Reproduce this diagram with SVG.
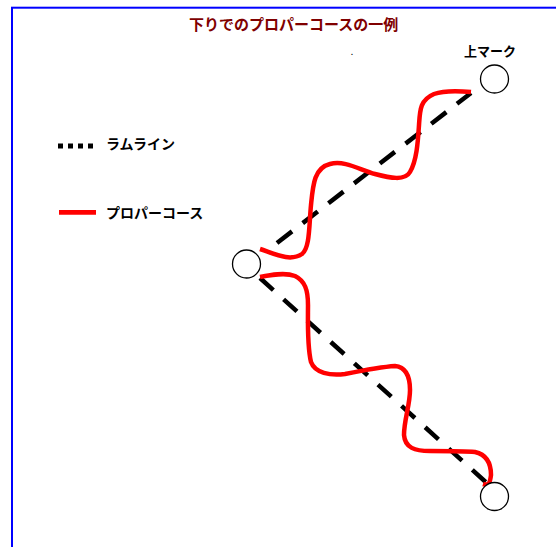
<svg xmlns="http://www.w3.org/2000/svg" width="556" height="547" viewBox="0 0 556 547">
<style>
.jp{font-family:"Noto Sans CJK JP","Noto Sans",sans-serif;font-weight:bold;}
.mark{fill:#fff;stroke:#000;stroke-width:1.3;}
.ram{fill:none;stroke:#000;stroke-width:4.5;}
.pro{fill:none;stroke:#ff0000;stroke-width:4.5;stroke-linejoin:round;}
</style>
<rect x="0" y="0" width="556" height="547" fill="#fff"/>
<rect x="12" y="7.7" width="600" height="600" fill="none" stroke="#0000ff" stroke-width="2"/>
<text class="jp" x="189" y="29.5" font-size="15" fill="#800000">下りでのプロパーコースの一例</text>
<text class="jp" x="351" y="55" font-size="6" fill="#000">.</text>
<g id="connectors">
<path class="ram" d="M277,243 L471,93" stroke-dasharray="19 13.5"/>
<path class="ram" d="M260,278 L489,485" stroke-dasharray="18 13.8"/>
<path class="pro" d="M260,249 C275,254 290,262 302,254 C310,248 309,225 311,205 C313,185 314,168 330,164 C345,160 360,170 375,174 C390,178 405,181 410,172 C417,160 418,140 419,125 C420,110 420,100 434,94 C445,90 460,91 471,92"/>
<path class="pro" d="M260,277 C270,275 285,272 295,276 C305,281 308,290 308,305 C308,320 307,345 311,362 C315,373 330,376 345,374 C360,371 380,367 395,366 C405,367 410,375 410,390 C410,405 404,420 404,435 C405,448 415,451 430,451 C445,451 465,451 475,452 C488,455 491,465 491,475 C490,483 489,486 483,484"/>
</g>
<g id="mark-top">
<circle class="mark" cx="494.5" cy="79" r="14"/>
<text class="jp" x="464" y="56" font-size="13" fill="#000">上マーク</text>
</g>
<g id="mark-left">
<circle class="mark" cx="246.5" cy="264" r="14"/>
</g>
<g id="mark-bottom">
<circle class="mark" cx="494.5" cy="496.5" r="14"/>
</g>
<g id="legend-ram">
<line x1="58" y1="146" x2="93" y2="146" stroke="#000" stroke-width="5" stroke-dasharray="5 5"/>
<text class="jp" x="106" y="149" font-size="14" fill="#000">ラムライン</text>
</g>
<g id="legend-pro">
<line x1="59" y1="212.3" x2="96" y2="212.3" stroke="#ff0000" stroke-width="4.7"/>
<text class="jp" x="106" y="218" font-size="14" fill="#000">プロパーコース</text>
</g>
</svg>
